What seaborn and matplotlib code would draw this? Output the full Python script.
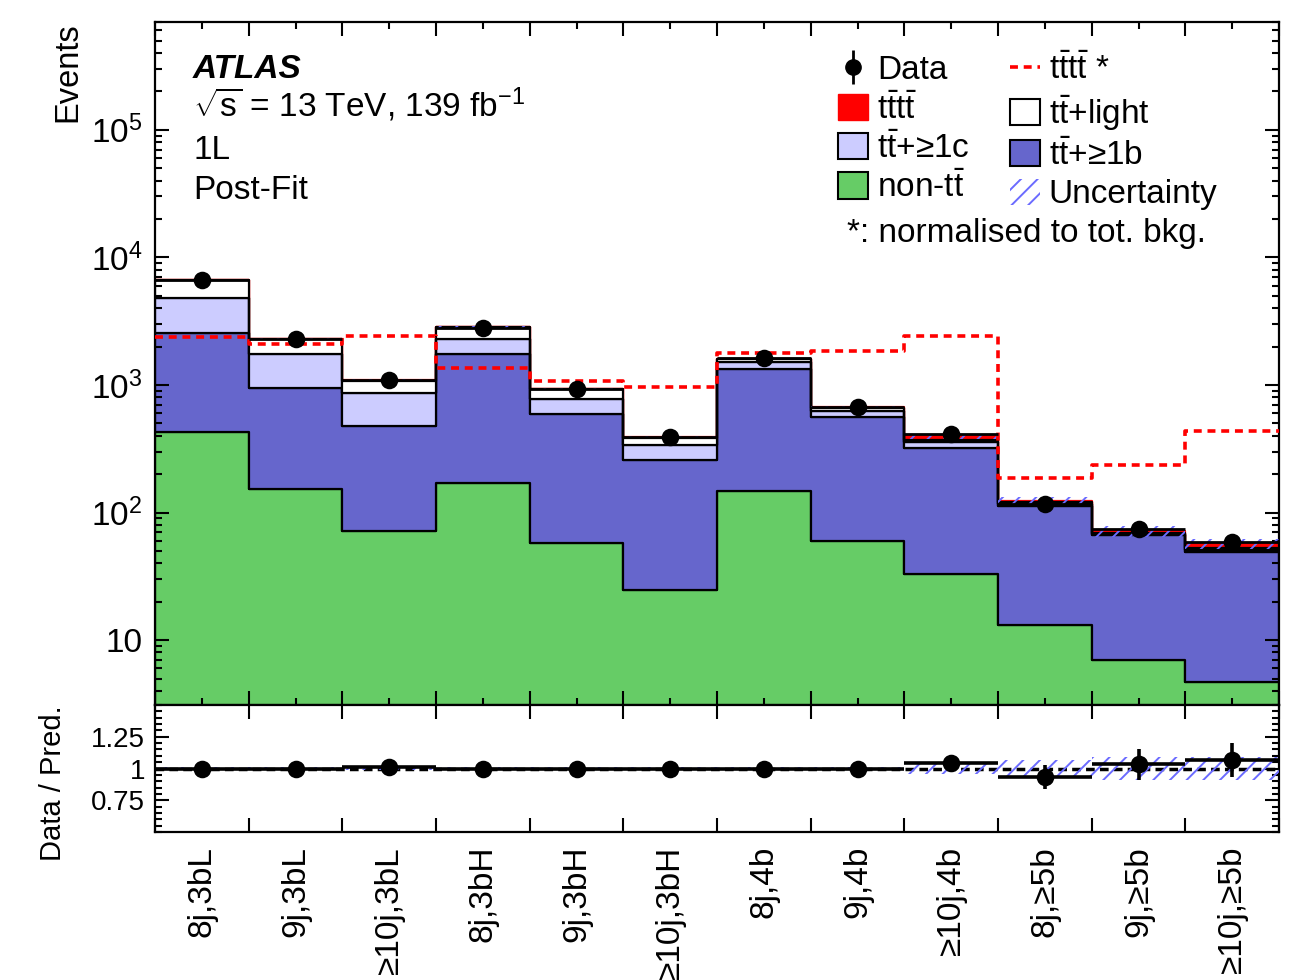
import numpy as np
import pandas as pd
import matplotlib
matplotlib.use("Agg")
import matplotlib.pyplot as plt
import seaborn as sns
from matplotlib.patches import Patch
from matplotlib.lines import Line2D
from matplotlib.ticker import FixedLocator, MultipleLocator, FuncFormatter, LogLocator, NullFormatter

# ---------------- data ----------------
regions = ["8j,3bL", "9j,3bL", "≥10j,3bL", "8j,3bH", "9j,3bH", "≥10j,3bH",
           "8j,4b", "9j,4b", "≥10j,4b", "8j,≥5b", "9j,≥5b", "≥10j,≥5b"]
non_tt = [425, 152, 71.5, 169, 57.5, 24.6, 147, 59.6, 32.9, 13.1, 7.0, 4.7]
tt_1b = [2110, 788, 402, 1571, 531, 232, 1178, 497, 285, 99, 59.4, 44.2]
tt_1c = [2225, 800, 386, 536, 182, 79, 177, 64, 37, 5, 1.1, 1.6]
tt_light = [1830, 536, 207, 549, 154, 46, 88, 35, 13, 3, 1.0, 2.0]
tttt = [27, 25, 28, 16, 12.5, 11, 20.5, 21, 28, 2.5, 2.8, 4]
tttt_norm = [2371, 2104, 2400, 1365, 1074, 964, 1766, 1833, 2400, 186, 234, 434]
data = [6650, 2300, 1100, 2800, 925, 390, 1620, 667, 410, 116, 74, 58.6]
data_err = [82, 48, 33, 53, 30, 20, 40, 26, 20, 11, 8.6, 7.7]
ratio = [1.0, 1.0, 1.012, 0.998, 0.998, 0.998, 0.998, 0.998, 1.04, 0.935, 1.033, 1.066]
ratio_err = [0.012, 0.021, 0.03, 0.019, 0.033, 0.051, 0.025, 0.039, 0.049, 0.093, 0.12, 0.135]
unc_rel = [0.012, 0.012, 0.015, 0.012, 0.012, 0.015, 0.012, 0.012, 0.04, 0.07, 0.09, 0.09]

# ---------------- style ----------------
plt.rcParams["font.family"] = ["Liberation Sans", "DejaVu Sans"]
plt.rcParams["mathtext.fontset"] = "custom"
plt.rcParams["mathtext.rm"] = "Liberation Sans"
plt.rcParams["mathtext.it"] = "Liberation Sans:italic"
plt.rcParams["mathtext.bf"] = "Liberation Sans:bold"
plt.rcParams["mathtext.default"] = "regular"
plt.rcParams["hatch.linewidth"] = 1.4
plt.rcParams["axes.linewidth"] = 1.6

TT = r"$\mathrm{t\bar{t}}$"
TTTT = r"$\mathrm{t\bar{t}t\bar{t}}$"

names = ["tttt", "light", "c", "b", "nontt"]
colors = {"tttt": "#ff0000", "light": "#ffffff", "c": "#ccccff",
          "b": "#6666cc", "nontt": "#66cc66"}
UNC_COLOR = "#6b6bff"

n = len(regions)
edges = np.arange(n + 1)
centers = np.arange(n) + 0.5

df = pd.DataFrame({
    "x": np.tile(centers, len(names)),
    "process": np.repeat(names, n),
    "w": np.concatenate([tttt, tt_light, tt_1c, tt_1b, non_tt]),
})

fig = plt.figure(figsize=(13.05, 9.8), dpi=100)
ax = fig.add_axes([0.1188, 0.2806, 0.8613, 0.6970])
ax2 = fig.add_axes([0.1188, 0.1510, 0.8613, 0.1296], sharex=ax)

sns.histplot(df, x="x", hue="process", weights="w", bins=[float(e) for e in edges],
             multiple="stack", element="step", hue_order=names,
             palette=colors, alpha=1, edgecolor="black", linewidth=1.6,
             legend=False, ax=ax)
# tttt layer gets a red outline
for coll in ax.collections:
    fc = coll.get_facecolor()
    if len(fc) and np.allclose(fc[0][:3], (1, 0, 0)):
        coll.set_edgecolor("#ff0000")
        coll.set_zorder(coll.get_zorder() - 0.1)

ax.set_yscale("log")

total = np.array(non_tt) + np.array(tt_1b) + np.array(tt_1c) + np.array(tt_light) + np.array(tttt)
rel = np.array(unc_rel)
lo = np.append(total * (1 - rel), total[-1] * (1 - rel[-1]))
hi = np.append(total * (1 + rel), total[-1] * (1 + rel[-1]))
ax.fill_between(edges, lo, hi, step="post", facecolor="none",
                edgecolor=UNC_COLOR, hatch="//", linewidth=0, zorder=3)

# tttt normalised (dashed red)
sns.lineplot(x=edges, y=np.append(tttt_norm, tttt_norm[-1]),
             drawstyle="steps-post", color="#ff0000", linestyle=(0, (2.2, 1.6)),
             linewidth=2.6, ax=ax, zorder=4)

# data
ax.errorbar(centers, data, yerr=data_err, xerr=0.5, fmt="none",
            ecolor="black", elinewidth=2, capsize=0, zorder=5)
sns.scatterplot(x=centers, y=data, color="black", s=160, linewidth=0,
                ax=ax, zorder=6)

ax.set_xlim(0, n)
ax.set_ylim(3.1, 7e5)

# ---------------- ratio panel ----------------
ax2.axhline(1.0, color="black", linestyle=(0, (2.5, 1.5)), linewidth=2.5, zorder=2)
rlo = np.append(1 - rel, 1 - rel[-1])
rhi = np.append(1 + rel, 1 + rel[-1])
ax2.fill_between(edges, rlo, rhi, step="post", facecolor="none",
                 edgecolor=UNC_COLOR, hatch="//", linewidth=0, zorder=3)
ax2.errorbar(centers, ratio, yerr=ratio_err, xerr=0.5, fmt="none",
             ecolor="black", elinewidth=2.6, capsize=0, zorder=5)
sns.scatterplot(x=centers, y=ratio, color="black", s=160, linewidth=0,
                ax=ax2, zorder=6)
ax2.set_ylim(0.5, 1.5)

# ---------------- ticks ----------------
for a in (ax, ax2):
    a.tick_params(which="both", direction="in", top=True, right=True, width=1.5)
    a.tick_params(which="major", length=10)
    a.tick_params(which="minor", length=5)
    a.set_xticks(edges)
    a.set_xlabel("")
    a.set_ylabel("")
ax.tick_params(axis="x", labelbottom=False)
ax2.set_xticks(centers, minor=True)
ax2.set_xticklabels(regions, minor=True, rotation=90, fontsize=24,
                    va="top", ha="center")
ax2.tick_params(axis="x", which="major", labelbottom=False)
ax2.tick_params(axis="x", which="minor", length=0, pad=10)

ax.yaxis.set_major_locator(FixedLocator([10, 1e2, 1e3, 1e4, 1e5]))
ax.yaxis.set_major_formatter(FuncFormatter(
    lambda v, p: "10" if abs(v - 10) < 1e-6 else r"$10^{%d}$" % round(np.log10(v))))
ax.yaxis.set_minor_locator(LogLocator(base=10, subs=np.arange(2, 10), numticks=20))
ax.yaxis.set_minor_formatter(NullFormatter())
ax.tick_params(axis="y", labelsize=24, pad=9)

ax2.yaxis.set_major_locator(FixedLocator([0.75, 1.0, 1.25]))
ax2.yaxis.set_major_formatter(FuncFormatter(lambda v, p: {0.75: "0.75", 1.0: "1", 1.25: "1.25"}.get(round(v, 2), "")))
ax2.yaxis.set_minor_locator(MultipleLocator(0.05))
ax2.tick_params(axis="y", labelsize=20, pad=7)

ax.set_ylabel("Events", loc="top", fontsize=23.5)
ax.yaxis.set_label_coords(-0.064, 1.0)
ax2.set_ylabel("Data / Pred.", loc="top", fontsize=21)
ax2.yaxis.set_label_coords(-0.078, 1.0)

# ---------------- texts ----------------
ax.text(0.0338, 0.918, "ATLAS", transform=ax.transAxes, fontsize=24,
        fontweight="bold", fontstyle="italic")
ax.text(0.0338, 0.861, r"$\sqrt{s}$ = 13 TeV, 139 fb$^{-1}$", transform=ax.transAxes, fontsize=24)
ax.text(0.0338, 0.799, "1L", transform=ax.transAxes, fontsize=24)
ax.text(0.0338, 0.741, "Post-Fit", transform=ax.transAxes, fontsize=24)

# ---------------- legend ----------------
h_data = ax.errorbar([np.nan], [np.nan], yerr=[1], fmt="o", color="black",
                     ms=11, elinewidth=2, capsize=0)
h_tttt = Patch(facecolor="#ff0000", edgecolor="#ff0000", linewidth=1)
h_c = Patch(facecolor=colors["c"], edgecolor="black", linewidth=1.5)
h_non = Patch(facecolor=colors["nontt"], edgecolor="black", linewidth=1.5)
h_norm = Line2D([0], [0], color="#ff0000", linestyle=(0, (2.2, 1.6)), linewidth=2.6)
h_light = Patch(facecolor="white", edgecolor="black", linewidth=1.5)
h_b = Patch(facecolor=colors["b"], edgecolor="black", linewidth=1.5)
h_unc = Patch(facecolor="none", edgecolor=UNC_COLOR, hatch="//", linewidth=0)
handles = [h_data, h_tttt, h_c, h_non, h_norm, h_light, h_b, h_unc]
labels = ["Data", TTTT, TT + "+≥1c", "non-" + TT,
          TTTT + " *", TT + "+light", TT + "+≥1b", "Uncertainty"]
leg = ax.legend(handles, labels, ncol=2, loc="upper left",
                bbox_to_anchor=(0.6077, 0.953), frameon=False, fontsize=24,
                borderpad=0, borderaxespad=0, handlelength=0.9,
                handleheight=0.85, handletextpad=0.27, columnspacing=1.2,
                labelspacing=0.205)
ax.text(0.6157, 0.6896, "*: normalised to tot. bkg.", transform=ax.transAxes,
        fontsize=24, va="center")

fig.savefig("out.png", dpi=100)
